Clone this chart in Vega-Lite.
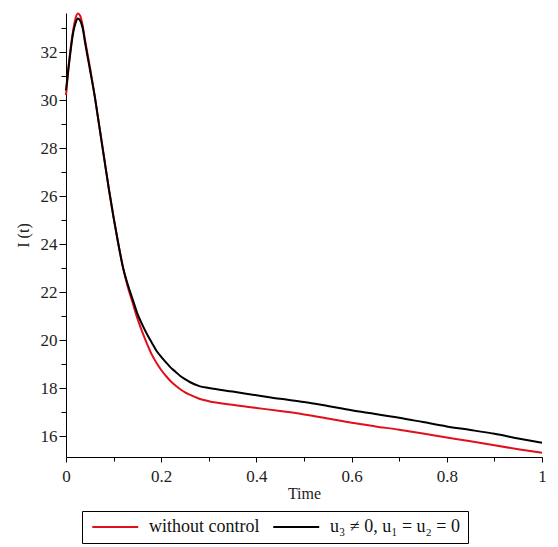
{
  "$schema": "https://vega.github.io/schema/vega-lite/v6.json",
  "width": 476,
  "height": 444,
  "autosize": {"type": "none"},
  "padding": {"left": 66, "top": 13, "right": 16, "bottom": 90},
  "background": "white",
  "config": {
    "view": {"stroke": null},
    "font": "Liberation Serif"
  },
  "data": {
    "values": [
      {"t": 0, "v": 30.2, "s": "without control"},
      {"t": 0.005, "v": 31.3, "s": "without control"},
      {"t": 0.01, "v": 32.2, "s": "without control"},
      {"t": 0.015, "v": 32.9, "s": "without control"},
      {"t": 0.02, "v": 33.4, "s": "without control"},
      {"t": 0.025, "v": 33.6, "s": "without control"},
      {"t": 0.03, "v": 33.5, "s": "without control"},
      {"t": 0.035, "v": 33.1, "s": "without control"},
      {"t": 0.04, "v": 32.5, "s": "without control"},
      {"t": 0.05, "v": 31.4, "s": "without control"},
      {"t": 0.06, "v": 30.2, "s": "without control"},
      {"t": 0.07, "v": 28.9, "s": "without control"},
      {"t": 0.08, "v": 27.6, "s": "without control"},
      {"t": 0.09, "v": 26.3, "s": "without control"},
      {"t": 0.1, "v": 25.1, "s": "without control"},
      {"t": 0.11, "v": 24.0, "s": "without control"},
      {"t": 0.12, "v": 23.0, "s": "without control"},
      {"t": 0.13, "v": 22.2, "s": "without control"},
      {"t": 0.14, "v": 21.55, "s": "without control"},
      {"t": 0.15, "v": 20.9, "s": "without control"},
      {"t": 0.16, "v": 20.35, "s": "without control"},
      {"t": 0.17, "v": 19.85, "s": "without control"},
      {"t": 0.18, "v": 19.4, "s": "without control"},
      {"t": 0.19, "v": 19.05, "s": "without control"},
      {"t": 0.2, "v": 18.75, "s": "without control"},
      {"t": 0.21, "v": 18.5, "s": "without control"},
      {"t": 0.22, "v": 18.28, "s": "without control"},
      {"t": 0.23, "v": 18.1, "s": "without control"},
      {"t": 0.24, "v": 17.95, "s": "without control"},
      {"t": 0.25, "v": 17.82, "s": "without control"},
      {"t": 0.26, "v": 17.72, "s": "without control"},
      {"t": 0.28, "v": 17.55, "s": "without control"},
      {"t": 0.3, "v": 17.45, "s": "without control"},
      {"t": 0.35, "v": 17.3, "s": "without control"},
      {"t": 0.4, "v": 17.17, "s": "without control"},
      {"t": 0.45, "v": 17.04, "s": "without control"},
      {"t": 0.5, "v": 16.9, "s": "without control"},
      {"t": 0.55, "v": 16.73, "s": "without control"},
      {"t": 0.6, "v": 16.55, "s": "without control"},
      {"t": 0.65, "v": 16.4, "s": "without control"},
      {"t": 0.7, "v": 16.26, "s": "without control"},
      {"t": 0.75, "v": 16.1, "s": "without control"},
      {"t": 0.8, "v": 15.94, "s": "without control"},
      {"t": 0.85, "v": 15.78, "s": "without control"},
      {"t": 0.9, "v": 15.61, "s": "without control"},
      {"t": 0.95, "v": 15.45, "s": "without control"},
      {"t": 1, "v": 15.3, "s": "without control"},
      {"t": 0, "v": 30.4, "s": "u₃ ≠ 0, u₁ = u₂ = 0"},
      {"t": 0.005, "v": 31.3, "s": "u₃ ≠ 0, u₁ = u₂ = 0"},
      {"t": 0.01, "v": 32.1, "s": "u₃ ≠ 0, u₁ = u₂ = 0"},
      {"t": 0.015, "v": 32.8, "s": "u₃ ≠ 0, u₁ = u₂ = 0"},
      {"t": 0.02, "v": 33.2, "s": "u₃ ≠ 0, u₁ = u₂ = 0"},
      {"t": 0.025, "v": 33.4, "s": "u₃ ≠ 0, u₁ = u₂ = 0"},
      {"t": 0.03, "v": 33.3, "s": "u₃ ≠ 0, u₁ = u₂ = 0"},
      {"t": 0.035, "v": 33.0, "s": "u₃ ≠ 0, u₁ = u₂ = 0"},
      {"t": 0.04, "v": 32.4, "s": "u₃ ≠ 0, u₁ = u₂ = 0"},
      {"t": 0.05, "v": 31.3, "s": "u₃ ≠ 0, u₁ = u₂ = 0"},
      {"t": 0.06, "v": 30.2, "s": "u₃ ≠ 0, u₁ = u₂ = 0"},
      {"t": 0.07, "v": 28.9, "s": "u₃ ≠ 0, u₁ = u₂ = 0"},
      {"t": 0.08, "v": 27.6, "s": "u₃ ≠ 0, u₁ = u₂ = 0"},
      {"t": 0.09, "v": 26.3, "s": "u₃ ≠ 0, u₁ = u₂ = 0"},
      {"t": 0.1, "v": 25.1, "s": "u₃ ≠ 0, u₁ = u₂ = 0"},
      {"t": 0.11, "v": 24.0, "s": "u₃ ≠ 0, u₁ = u₂ = 0"},
      {"t": 0.12, "v": 23.0, "s": "u₃ ≠ 0, u₁ = u₂ = 0"},
      {"t": 0.13, "v": 22.3, "s": "u₃ ≠ 0, u₁ = u₂ = 0"},
      {"t": 0.14, "v": 21.7, "s": "u₃ ≠ 0, u₁ = u₂ = 0"},
      {"t": 0.15, "v": 21.1, "s": "u₃ ≠ 0, u₁ = u₂ = 0"},
      {"t": 0.16, "v": 20.65, "s": "u₃ ≠ 0, u₁ = u₂ = 0"},
      {"t": 0.17, "v": 20.25, "s": "u₃ ≠ 0, u₁ = u₂ = 0"},
      {"t": 0.18, "v": 19.9, "s": "u₃ ≠ 0, u₁ = u₂ = 0"},
      {"t": 0.19, "v": 19.55, "s": "u₃ ≠ 0, u₁ = u₂ = 0"},
      {"t": 0.2, "v": 19.3, "s": "u₃ ≠ 0, u₁ = u₂ = 0"},
      {"t": 0.21, "v": 19.07, "s": "u₃ ≠ 0, u₁ = u₂ = 0"},
      {"t": 0.22, "v": 18.85, "s": "u₃ ≠ 0, u₁ = u₂ = 0"},
      {"t": 0.23, "v": 18.68, "s": "u₃ ≠ 0, u₁ = u₂ = 0"},
      {"t": 0.24, "v": 18.5, "s": "u₃ ≠ 0, u₁ = u₂ = 0"},
      {"t": 0.25, "v": 18.37, "s": "u₃ ≠ 0, u₁ = u₂ = 0"},
      {"t": 0.26, "v": 18.25, "s": "u₃ ≠ 0, u₁ = u₂ = 0"},
      {"t": 0.28, "v": 18.08, "s": "u₃ ≠ 0, u₁ = u₂ = 0"},
      {"t": 0.3, "v": 18.0, "s": "u₃ ≠ 0, u₁ = u₂ = 0"},
      {"t": 0.35, "v": 17.85, "s": "u₃ ≠ 0, u₁ = u₂ = 0"},
      {"t": 0.4, "v": 17.7, "s": "u₃ ≠ 0, u₁ = u₂ = 0"},
      {"t": 0.45, "v": 17.55, "s": "u₃ ≠ 0, u₁ = u₂ = 0"},
      {"t": 0.5, "v": 17.42, "s": "u₃ ≠ 0, u₁ = u₂ = 0"},
      {"t": 0.55, "v": 17.25, "s": "u₃ ≠ 0, u₁ = u₂ = 0"},
      {"t": 0.6, "v": 17.07, "s": "u₃ ≠ 0, u₁ = u₂ = 0"},
      {"t": 0.65, "v": 16.92, "s": "u₃ ≠ 0, u₁ = u₂ = 0"},
      {"t": 0.7, "v": 16.76, "s": "u₃ ≠ 0, u₁ = u₂ = 0"},
      {"t": 0.75, "v": 16.58, "s": "u₃ ≠ 0, u₁ = u₂ = 0"},
      {"t": 0.8, "v": 16.4, "s": "u₃ ≠ 0, u₁ = u₂ = 0"},
      {"t": 0.85, "v": 16.25, "s": "u₃ ≠ 0, u₁ = u₂ = 0"},
      {"t": 0.9, "v": 16.09, "s": "u₃ ≠ 0, u₁ = u₂ = 0"},
      {"t": 0.95, "v": 15.9, "s": "u₃ ≠ 0, u₁ = u₂ = 0"},
      {"t": 1, "v": 15.72, "s": "u₃ ≠ 0, u₁ = u₂ = 0"}
    ]
  },
  "mark": {"type": "line", "strokeWidth": 2, "interpolate": "monotone"},
  "encoding": {
    "x": {
      "field": "t",
      "type": "quantitative",
      "scale": {"domain": [0, 1], "nice": false, "zero": false},
      "axis": {
        "title": "Time",
        "values": [0, 0.1, 0.2, 0.3, 0.4, 0.5, 0.6, 0.7, 0.8, 0.9, 1],
        "labelExpr": "round(datum.value*10) % 2 == 0 ? format(datum.value, '~g') : ''",
        "tickSize": {"condition": {"test": "round(datum.value*10) % 2 == 0", "value": 5}, "value": 4},
        "grid": false,
        "domainColor": "black",
        "tickColor": "black",
        "labelFont": "Liberation Serif",
        "labelFontSize": 17,
        "labelColor": "#222",
        "labelPadding": 6,
        "labelOverlap": false,
        "labelFlush": false,
        "titleFont": "Liberation Serif",
        "titleFontSize": 16,
        "titleFontWeight": "normal",
        "titleColor": "#222",
        "titlePadding": 1
      }
    },
    "y": {
      "field": "v",
      "type": "quantitative",
      "scale": {"domain": [15.125, 33.625], "nice": false, "zero": false},
      "axis": {
        "title": "I (t)",
        "values": [16, 17, 18, 19, 20, 21, 22, 23, 24, 25, 26, 27, 28, 29, 30, 31, 32, 33],
        "labelExpr": "datum.value % 2 == 0 ? format(datum.value, 'd') : ''",
        "tickSize": {"condition": {"test": "datum.value % 2 == 0", "value": 7}, "value": 5},
        "grid": false,
        "domainColor": "black",
        "tickColor": "black",
        "labelFont": "Liberation Serif",
        "labelFontSize": 17,
        "labelColor": "#222",
        "labelPadding": 2,
        "labelOverlap": false,
        "labelFlush": false,
        "titleFont": "Liberation Serif",
        "titleFontSize": 16,
        "titleFontWeight": "normal",
        "titleColor": "#222",
        "titlePadding": 9
      }
    },
    "color": {
      "field": "s",
      "type": "nominal",
      "scale": {"domain": ["without control", "u₃ ≠ 0, u₁ = u₂ = 0"], "range": ["#e0101a", "#000000"]},
      "legend": {
        "title": null,
        "orient": "none",
        "legendX": 16,
        "legendY": 498,
        "direction": "horizontal",
        "symbolType": "M-1,0H7",
        "symbolSize": 132,
        "symbolStrokeWidth": 2,
        "labelFont": "Liberation Serif",
        "labelFontSize": 18,
        "labelColor": "#111",
        "labelOffset": 42,
        "columnPadding": 9,
        "labelLimit": 300,
        "padding": 7,
        "strokeColor": "black",
        "fillColor": "white"
      }
    }
  }
}
